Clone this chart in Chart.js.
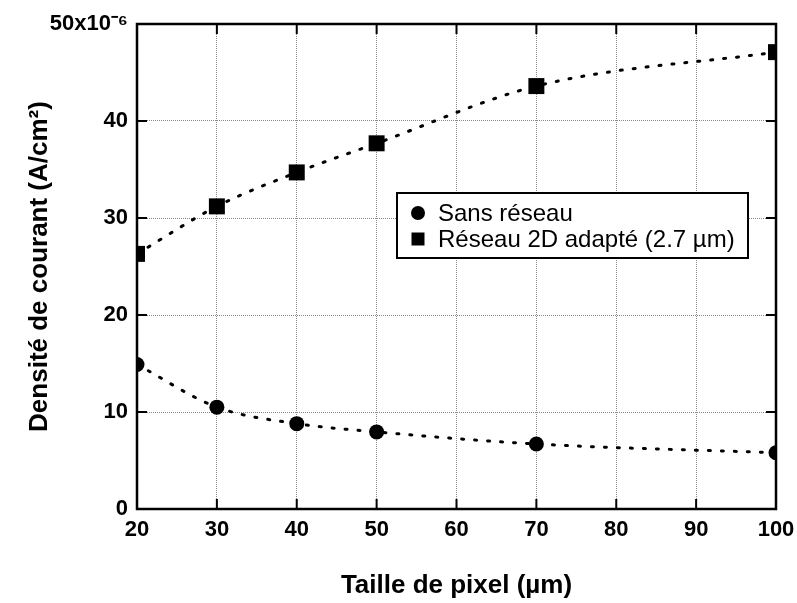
<!DOCTYPE html>
<html>
<head>
<meta charset="utf-8">
<script src="https://cdn.jsdelivr.net/npm/chart.js@4.4.1/dist/chart.umd.min.js"></script>
<style>
  html, body { margin: 0; padding: 0; background: #fff; }
  #wrap { width: 797px; height: 603px; }
</style>
</head>
<body>
<div id="wrap"><canvas id="chart"></canvas></div>
<script>
const pixelSizes = [20, 30, 40, 50, 70, 100];
const sansReseau = [14.9, 10.5, 8.8, 7.95, 6.7, 5.8];
const reseau2D = [26.3, 31.2, 34.7, 37.7, 43.6, 47.1];
const seriesNames = ['Sans réseau', 'Réseau 2D adapté (2.7 µm)'];
const yTickLabels = { 0: '0', 10: '10', 20: '20', 30: '30', 40: '40', 50: '50x10⁻⁶' };

const FONT = '"Liberation Sans", Arial, sans-serif';

const toPoints = (vals) => pixelSizes.map((x, i) => ({ x: x, y: vals[i] }));

// frame + inward ticks + legend box
const framePlugin = {
    id: 'frame',
    afterDatasetsDraw(chart) {
        const { ctx, chartArea: a, scales } = chart;
        ctx.save();
        ctx.strokeStyle = '#000';
        ctx.lineWidth = 2.5;
        ctx.strokeRect(a.left, a.top, a.right - a.left, a.bottom - a.top);
        ctx.lineWidth = 2;
        const len = 10;
        scales.x.ticks.forEach(t => {
            if (t.value <= 20 || t.value >= 100) return;
            const px = scales.x.getPixelForValue(t.value);
            ctx.beginPath();
            ctx.moveTo(px, a.bottom); ctx.lineTo(px, a.bottom - len);
            ctx.moveTo(px, a.top); ctx.lineTo(px, a.top + len);
            ctx.stroke();
        });
        scales.y.ticks.forEach(t => {
            if (t.value <= 0 || t.value >= 50) return;
            const py = scales.y.getPixelForValue(t.value);
            ctx.beginPath();
            ctx.moveTo(a.left, py); ctx.lineTo(a.left + len, py);
            ctx.moveTo(a.right, py); ctx.lineTo(a.right - len, py);
            ctx.stroke();
        });

        // legend
        const bx = 397, by = 193, bw = 351, bh = 65;
        ctx.fillStyle = '#fff';
        ctx.fillRect(bx, by, bw, bh);
        ctx.lineWidth = 2;
        ctx.strokeRect(bx, by, bw, bh);
        ctx.fillStyle = '#000';
        ctx.font = '24px ' + FONT;
        ctx.textBaseline = 'middle';
        ctx.textAlign = 'left';
        chart.data.datasets.forEach((ds, i) => {
            const cy = by + 20 + i * 26;
            const cx = bx + 21;
            ctx.beginPath();
            if (ds.pointStyle === 'rect') {
                ctx.rect(cx - 6.5, cy - 6.5, 13, 13);
            } else {
                ctx.arc(cx, cy, 7, 0, Math.PI * 2);
            }
            ctx.fill();
            ctx.fillText(ds.label, bx + 41, cy + 1);
        });
        ctx.restore();
    }
};

const data = {
    datasets: [{
        label: seriesNames[0],
        data: toPoints(sansReseau),
        borderColor: '#000',
        backgroundColor: '#000',
        borderWidth: 3,
        borderDash: [2, 11],
        borderCapStyle: 'round',
        cubicInterpolationMode: 'monotone',
        pointStyle: 'circle',
        pointRadius: 7.5,
        pointBorderWidth: 0
    }, {
        label: seriesNames[1],
        data: toPoints(reseau2D),
        borderColor: '#000',
        backgroundColor: '#000',
        borderWidth: 3,
        borderDash: [2, 11],
        borderCapStyle: 'round',
        cubicInterpolationMode: 'monotone',
        pointStyle: 'rect',
        pointRadius: 11.3,
        pointBorderWidth: 0
    }]
};

const config = {
    type: 'line',
    data: data,
    options: {
        responsive: true,
        maintainAspectRatio: false,
        animation: false,
        layout: { padding: { top: 24, right: 21, bottom: 0, left: 0 } },
        plugins: {
            legend: { display: false },
            tooltip: { enabled: false }
        },
        scales: {
            x: {
                type: 'linear',
                min: 20,
                max: 100,
                afterFit: s => { s.height = 94; s.paddingRight = 0; s.paddingLeft = 0; },
                ticks: {
                    stepSize: 10,
                    color: '#000',
                    padding: 8,
                    font: { family: FONT, size: 22, weight: 'bold' }
                },
                grid: { color: '#888', lineWidth: 1, drawTicks: false },
                border: { display: false, dash: [1, 1] },
                title: {
                    display: true,
                    text: 'Taille de pixel (µm)',
                    color: '#000',
                    font: { family: FONT, size: 26, weight: 'bold' },
                    padding: { top: 0, bottom: 2 }
                }
            },
            y: {
                min: 0,
                max: 50,
                afterFit: s => { s.width = 137; },
                ticks: {
                    stepSize: 10,
                    color: '#000',
                    padding: 9,
                    font: { family: FONT, size: 22, weight: 'bold' },
                    callback: v => yTickLabels[v]
                },
                grid: { color: '#888', lineWidth: 1, drawTicks: false },
                border: { display: false, dash: [1, 1] },
                title: {
                    display: true,
                    text: 'Densité de courant (A/cm²)',
                    color: '#000',
                    font: { family: FONT, size: 26, weight: 'bold' },
                    padding: { top: 24, bottom: 0 }
                }
            }
        }
    },
    plugins: [framePlugin]
};

new Chart(document.getElementById('chart'), config);
</script>
</body>
</html>
